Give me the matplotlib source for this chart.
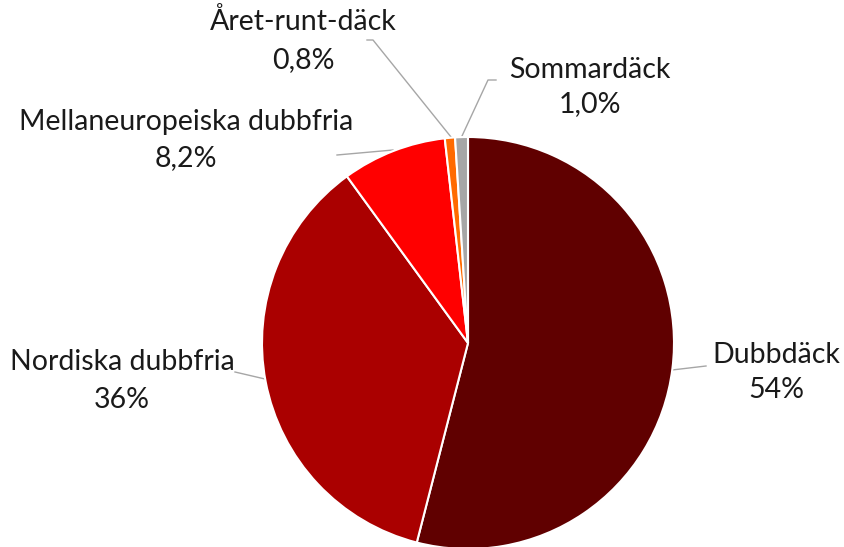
import matplotlib
matplotlib.use("Agg")
import matplotlib.pyplot as plt

labels = ["Dubbdäck", "Nordiska dubbfria", "Mellaneuropeiska dubbfria", "Året-runt-däck", "Sommardäck"]
pct_text = ["54%", "36%", "8,2%", "0,8%", "1,0%"]
values = [54.0, 36.0, 8.2, 0.8, 1.0]
colors = ["#600000", "#AA0000", "#FF0000", "#FF6A00", "#A6A6A6"]

W, H = 844, 547
fig = plt.figure(figsize=(W / 100, H / 100), dpi=100)
ax = fig.add_axes([0, 0, 1, 1])

cx, cy, r = 468, H - 343, 206
ax.pie(values, colors=colors, startangle=90, counterclock=False,
       center=(cx, cy), radius=r, frame=True,
       wedgeprops=dict(edgecolor="white", linewidth=1.5))
ax.set_xlim(0, W)
ax.set_ylim(0, H)
ax.set_aspect("equal")
ax.axis("off")

font = "Lato"
# label block positions (pixel coords, top-origin) : (x, y_line1, y_line2)
pos = [(776, 355, 390), (122, 362, 400), (186, 122, 158), (303, 22, 60), (590, 70, 104)]
for (x, y1, y2), lab, pt in zip(pos, labels, pct_text):
    ax.text(x, H - y1, lab, ha="center", va="center", fontsize=20.5, family=font,
            color="#1a1a1a")
    ax.text(x, H - y2, pt, ha="center", va="center", fontsize=20.5, family=font,
            color="#1a1a1a")

leaders = [
    [(672, 370), (706, 366)],
    [(235, 372), (265, 379)],
    [(337, 155), (393, 150)],
    [(367, 40), (373, 40), (451, 137)],
    [(462, 136), (488, 80), (496, 80)],
]
for pts in leaders:
    xs = [p[0] for p in pts]
    ys = [H - p[1] for p in pts]
    ax.plot(xs, ys, color="#A6A6A6", linewidth=1, zorder=0.5)

fig.savefig("out.png", dpi=100)
